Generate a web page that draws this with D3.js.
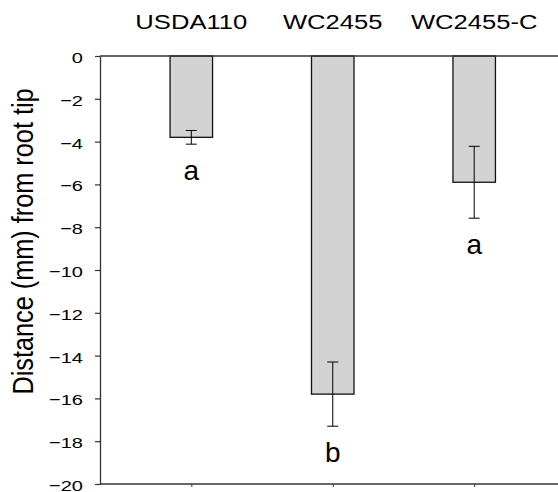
<!DOCTYPE html>
<html>
<head>
<meta charset="utf-8">
<script src="https://cdn.jsdelivr.net/npm/d3@7"></script>
<style>
  body { margin: 0; background: #fff; }
  text { font-family: "Liberation Sans", Arial, sans-serif; fill: #000; }
</style>
</head>
<body>
<div id="chart"></div>
<script>
// strains, mean distance from root tip (mm), standard error, letter groups
var strains = ["USDA110", "WC2455", "WC2455-C"];
var means = [-3.8, -15.8, -5.9];
var errors = [0.32, 1.5, 1.68];
var groups = ["a", "b", "a"];
var yTicks = [0, -2, -4, -6, -8, -10, -12, -14, -16, -18, -20];

var width = 558, height = 492;
var axisX = 100, top0 = 56, bottom = 484;
var barWidth = 42.5;

var svg = d3.select("#chart").append("svg")
    .attr("width", width)
    .attr("height", height);

var x = d3.scalePoint()
    .domain(strains)
    .range([191.3, 474.2]);

var y = d3.scaleLinear()
    .domain([-20, 0])
    .range([bottom, top0]);

// bars hang down from zero
svg.selectAll("rect.bar")
    .data(strains)
  .enter().append("rect")
    .attr("class", "bar")
    .attr("x", function(d) { return x(d) - barWidth / 2; })
    .attr("y", y(0))
    .attr("width", barWidth)
    .attr("height", function(d, i) { return y(means[i]) - y(0); })
    .style("fill", "#d3d3d3")
    .style("stroke", "#111")
    .style("stroke-width", 1.3);

// error bars
var err = svg.selectAll("g.err")
    .data(strains)
  .enter().append("g")
    .attr("class", "err")
    .style("stroke", "#000")
    .style("stroke-width", 1);

err.append("line")
    .attr("x1", function(d) { return x(d); })
    .attr("x2", function(d) { return x(d); })
    .attr("y1", function(d, i) { return y(means[i] + errors[i]); })
    .attr("y2", function(d, i) { return y(means[i] - errors[i]); });

[1, -1].forEach(function(s) {
  err.append("line")
      .attr("x1", function(d) { return x(d) - 5.5; })
      .attr("x2", function(d) { return x(d) + 5.5; })
      .attr("y1", function(d, i) { return y(means[i] + s * errors[i]); })
      .attr("y2", function(d, i) { return y(means[i] + s * errors[i]); });
});

// significance letters
svg.selectAll("text.group")
    .data(strains)
  .enter().append("text")
    .attr("class", "group")
    .attr("x", function(d) { return x(d); })
    .attr("y", function(d, i) { return y(means[i] - errors[i]) + 36; })
    .attr("text-anchor", "middle")
    .style("font-size", "28px")
    .text(function(d, i) { return groups[i]; });

// y axis
var yAxis = svg.append("g")
    .attr("transform", "translate(" + axisX + ",0)")
    .call(d3.axisLeft(y).tickValues(yTicks).tickSize(5).tickSizeOuter(0));

yAxis.select(".domain").style("stroke", "#333").style("stroke-width", 1.3);
yAxis.selectAll(".tick line").style("stroke", "#333").style("stroke-width", 1.2);
yAxis.selectAll(".tick text")
    .attr("x", 0)
    .attr("dy", "0.42em")
    .attr("transform", "translate(-17,0) scale(1.3,1)")
    .style("font-size", "15.4px")
    .style("font-family", '"Liberation Sans", Arial, sans-serif')
    .style("fill", "#000");

// zero line at top and frame line at bottom
[top0, bottom].forEach(function(yy) {
  svg.append("line")
      .attr("x1", axisX)
      .attr("x2", width)
      .attr("y1", yy)
      .attr("y2", yy)
      .style("stroke", "#333")
      .style("stroke-width", 1.3);
});

// small ticks on the bottom line
var xAxis = svg.append("g")
    .attr("transform", "translate(0," + bottom + ")")
    .call(d3.axisBottom(x).tickSize(3).tickFormat(""));
xAxis.select(".domain").remove();
xAxis.selectAll(".tick line").style("stroke", "#333");

// strain labels above
svg.selectAll("text.strain")
    .data(strains)
  .enter().append("text")
    .attr("class", "strain")
    .attr("transform", function(d) { return "translate(" + x(d) + ",29) scale(1.28,1)"; })
    .attr("text-anchor", "middle")
    .style("font-size", "20px")
    .text(function(d) { return d; });

// y axis title
svg.append("text")
    .attr("transform", "translate(33,241.5) rotate(-90) scale(1,1.14)")
    .attr("text-anchor", "middle")
    .style("font-size", "25.3px")
    .text("Distance (mm) from root tip");
</script>
</body>
</html>
